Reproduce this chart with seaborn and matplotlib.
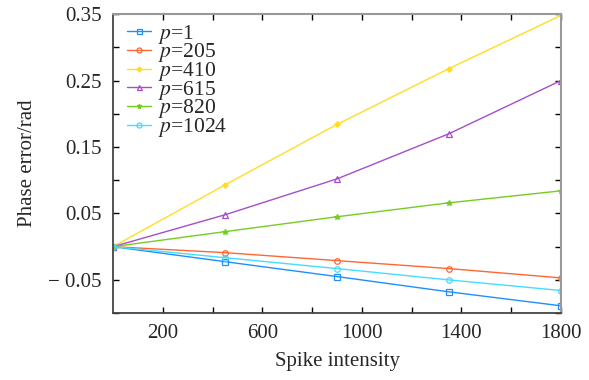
import matplotlib
matplotlib.use("Agg")
import matplotlib.pyplot as plt
import seaborn as sns
import pandas as pd
from matplotlib.ticker import FixedLocator

sns.set_style("ticks")
plt.rcParams['font.family'] = ['Liberation Serif', 'DejaVu Serif']
plt.rcParams['mathtext.fontset'] = 'stix'

intensity = [0, 450, 900, 1350, 1800]
p_labels = ["1", "205", "410", "615", "820", "1024"]
err_p1 = [0.0, -0.0226, -0.045, -0.068, -0.089]
err_p205 = [0.0, -0.009, -0.021, -0.033, -0.047]
err_p410 = [0.0, 0.093, 0.184, 0.268, 0.348]
err_p615 = [0.0, 0.048, 0.102, 0.170, 0.250]
err_p820 = [0.0, 0.0226, 0.045, 0.066, 0.084]
err_p1024 = [0.0, -0.0166, -0.033, -0.050, -0.066]
series = [err_p1, err_p205, err_p410, err_p615, err_p820, err_p1024]

colors = ["#1f8fff", "#ff6633", "#ffdd22", "#a64dcc", "#77cc22", "#44ddff"]
markers = ["s", "o", "P", "^", "*", "o"]
filled = [False, False, True, False, True, False]

rows = []
for lab, vals in zip(p_labels, series):
    for x, y in zip(intensity, vals):
        rows.append({"x": x, "y": y, "p": f"$p$={lab}"})
df = pd.DataFrame(rows)

fig = plt.figure(figsize=(5.89, 3.80), dpi=100)
ax = fig.add_axes([0.192, 0.176, 0.7605, 0.787])

for i, lab in enumerate(p_labels):
    name = f"$p$={lab}"
    sub = df[df["p"] == name]
    sns.lineplot(data=sub, x="x", y="y", ax=ax, color=colors[i], marker=markers[i],
                 markersize=4 if markers[i] != "P" else 3.5,
                 markerfacecolor=(colors[i] if filled[i] else "none"),
                 markeredgecolor=colors[i], markeredgewidth=0.9,
                 linewidth=1.0, label=name)

ax.set_xlim(0, 1800)
ax.set_ylim(-0.1, 0.35)
ax.xaxis.set_major_locator(FixedLocator([200, 600, 1000, 1400, 1800]))
ax.xaxis.set_minor_locator(FixedLocator([400, 800, 1200, 1600]))
ax.yaxis.set_major_locator(FixedLocator([-0.05, 0.05, 0.15, 0.25, 0.35]))
ax.yaxis.set_minor_locator(FixedLocator([-0.1, 0.0, 0.1, 0.2, 0.3]))
ax.set_yticklabels(["\u2212 0.05", "0.05", "0.15", "0.25", "0.35"])
ax.tick_params(which="both", direction="in", top=True, right=True, length=4,
               width=1.0, color="black", labelsize=15)
ax.tick_params(axis="x", pad=8)
ax.tick_params(axis="y", pad=8)

for s in ["left", "bottom"]:
    ax.spines[s].set_color("#444444")
    ax.spines[s].set_linewidth(1.3)
for s in ["top", "right"]:
    ax.spines[s].set_color("#999999")
    ax.spines[s].set_linewidth(1.5)

ax.set_xlabel("Spike intensity", fontsize=15, labelpad=6)
ax.set_ylabel("Phase error/rad", fontsize=15, labelpad=8)

ax.legend(loc="upper left", frameon=False, fontsize=15.5, handlelength=1.1,
          handletextpad=0.35, labelspacing=-0.2, borderaxespad=0.0,
          bbox_to_anchor=(0.012, 1.0), markerscale=0.9)

fig.savefig("out.png", dpi=100)
